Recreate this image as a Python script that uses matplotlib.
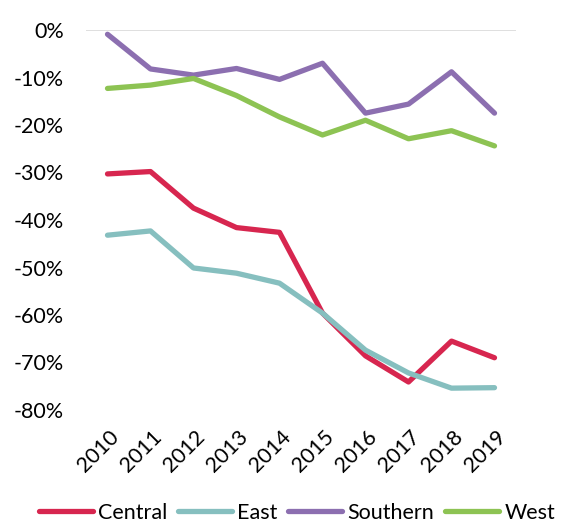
import matplotlib
matplotlib.use("Agg")
import matplotlib.pyplot as plt
from matplotlib.ticker import FuncFormatter
from matplotlib.transforms import ScaledTranslation

plt.rcParams['font.family'] = ['Lato', 'DejaVu Sans']

years = ["2010", "2011", "2012", "2013", "2014", "2015", "2016", "2017", "2018", "2019"]
central = [-30.3, -29.8, -37.5, -41.6, -42.6, -59.6, -68.6, -74.1, -65.5, -69.0]
east = [-43.2, -42.3, -50.1, -51.2, -53.3, -59.6, -67.4, -72.2, -75.4, -75.3]
southern = [-0.9, -8.2, -9.5, -8.1, -10.4, -7.0, -17.5, -15.6, -8.8, -17.5]
west = [-12.3, -11.6, -10.2, -13.8, -18.3, -22.1, -19.0, -22.9, -21.2, -24.4]

series = [("Central", central, "#D7264F"),
          ("East", east, "#86BFBF"),
          ("Southern", southern, "#8C6FB0"),
          ("West", west, "#8DC353")]

FS = 15.5
fig = plt.figure(figsize=(5.63, 5.26), dpi=100)
ax = fig.add_axes([86/563, 1-410/526, 430/563, 380/526])

x = list(range(len(years)))
for name, vals, col in series:
    ax.plot(x, vals, color=col, lw=3.8, solid_capstyle='round',
            solid_joinstyle='round', label=name, clip_on=False)

ax.axhline(0, color="#D9D9D9", lw=1.2, zorder=0)
ax.set_xlim(-0.5, len(years) - 0.5)
ax.set_ylim(-80, 0)
ax.set_yticks(range(-80, 1, 10))
ax.yaxis.set_major_formatter(FuncFormatter(lambda v, p: f"{int(round(v))}%"))
ax.set_xticks(x)
ax.set_xticklabels(years, rotation=45, ha='right', va='center', rotation_mode='anchor')
ax.tick_params(axis='both', length=0, labelsize=FS, colors='black')
ax.tick_params(axis='x', pad=17)
ax.tick_params(axis='y', pad=16)
off = ScaledTranslation(8/100, 0, fig.dpi_scale_trans)
for lab in ax.get_xticklabels():
    lab.set_transform(lab.get_transform() + off)
for s in ax.spines.values():
    s.set_visible(False)

fig.legend(loc='center', bbox_to_anchor=(297/563, 1-513/526), ncol=4,
           frameon=False, fontsize=FS, handlelength=2.5, handletextpad=0.25,
           columnspacing=0.5, borderpad=0, borderaxespad=0)

fig.savefig("out.png", dpi=100)
